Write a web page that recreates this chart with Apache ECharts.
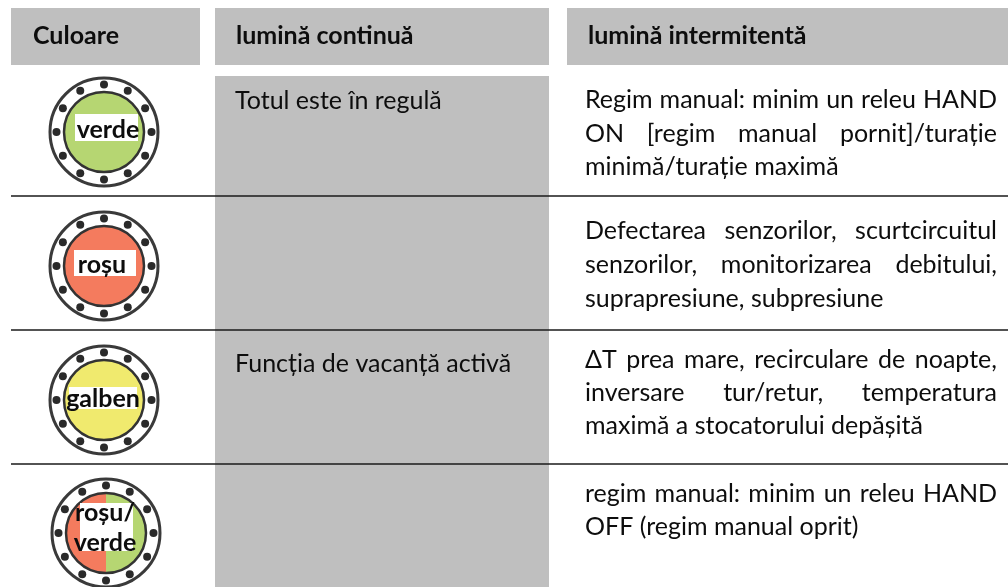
<!DOCTYPE html>
<html>
<head>
<meta charset="utf-8">
<style>
  html, body { margin: 0; padding: 0; background: #fff; }
  #chart { width: 1008px; height: 587px; }
</style>
<script src="https://cdn.jsdelivr.net/npm/echarts@6/dist/echarts.min.js"></script>
</head>
<body>
<div id="chart"></div>
<script>
// table content
const columnTitles = ['Culoare', 'lumină continuă', 'lumină intermitentă'];
const lampNames = [['verde'], ['roșu'], ['galben'], ['roșu/', 'verde']];
const lampColors = [['#b6d672'], ['#f47b5e'], ['#f0ea6e'], ['#f47b5e', '#b6d672']];
const steadyTexts = ['Totul este în regulă', '', 'Funcția de vacanță activă', ''];
const blinkLines = [
    ['Regim manual: minim un releu HAND', 'ON [regim manual pornit]/turație', 'minimă/turație maximă'],
    ['Defectarea senzorilor, scurtcircuitul', 'senzorilor, monitorizarea debitului,', 'suprapresiune, subpresiune'],
    ['ΔT prea mare, recirculare de noapte,', 'inversare tur/retur, temperatura', 'maximă a stocatorului depășită'],
    ['regim manual: minim un releu HAND', 'OFF (regim manual oprit)']
];

// layout, in page pixels (the hidden axes map 1:1)
const headerCols = [[11, 200], [215, 549], [567, 1008]];
const headerTop = 8, headerBottom = 65;
const headerTextX = [33, 236, 588];
const headerTextY = 36;
const grayCol = { left: 215, right: 549, top: 76, bottom: 587 };
const ruleY = [196, 330, 464];
const ruleLeft = 11, ruleRight = 1008;
const lampCx = [104, 104, 104, 106];
const lampCy = [132, 266, 400, 533];
const labelBoxes = [[75, 114, 138, 141], [74, 250, 136, 276], [69, 387, 137, 409], [80, 503, 133, 551]];
const labelLineY = [[130], [265], [399], [513, 543]];
const labelCx = [108, 102, 103, 105];
const steadyX = 235;
const steadyY = [101, 0, 364, 0];
const blinkLeft = 585, blinkRight = 997;
const blinkY = [[100, 134, 167], [231, 265, 299], [360, 393, 426], [494, 527]];

const FONT = 'Lato';
const BODY_SIZE = 25;
const measureCtx = document.createElement('canvas').getContext('2d');

function textEl(x, y, text, size, weight, align) {
    return {
        type: 'text',
        style: {
            x: x, y: y, text: text,
            fontFamily: FONT, fontSize: size, fontWeight: weight,
            fill: '#0d0d0d', align: align || 'left', verticalAlign: 'middle'
        }
    };
}

function renderCells(params, api) {
    const children = [];
    headerCols.forEach((col, i) => {
        const a = api.coord([col[0], headerTop]);
        const b = api.coord([col[1], headerBottom]);
        children.push({ type: 'rect', shape: { x: a[0], y: a[1], width: b[0] - a[0], height: b[1] - a[1] }, style: { fill: '#bfbfbf' } });
    });
    const a = api.coord([grayCol.left, grayCol.top]);
    const b = api.coord([grayCol.right, grayCol.bottom]);
    children.push({ type: 'rect', shape: { x: a[0], y: a[1], width: b[0] - a[0], height: b[1] - a[1] }, style: { fill: '#bfbfbf' } });
    return { type: 'group', children: children };
}

function renderRule(params, api) {
    const a = api.coord([ruleLeft, api.value(0)]);
    const b = api.coord([ruleRight, api.value(0)]);
    return { type: 'line', shape: { x1: a[0], y1: a[1], x2: b[0], y2: b[1] }, style: { stroke: '#1a1a1a', lineWidth: 1.6 } };
}

function renderLamp(params, api) {
    const i = params.dataIndex;
    const c = api.coord([lampCx[i], lampCy[i]]);
    const children = [
        { type: 'circle', shape: { cx: c[0], cy: c[1], r: 54 }, style: { fill: 'none', stroke: '#3a3a3a', lineWidth: 3 } }
    ];
    for (let k = 0; k < 12; k++) {
        const ang = k * Math.PI / 6;
        children.push({
            type: 'circle',
            shape: { cx: c[0] + 47.5 * Math.cos(ang), cy: c[1] + 47.5 * Math.sin(ang), r: 4 },
            style: { fill: '#2a2a2a' }
        });
    }
    const fills = lampColors[i];
    if (fills.length === 1) {
        children.push({ type: 'circle', shape: { cx: c[0], cy: c[1], r: 40 }, style: { fill: fills[0] } });
    } else {
        children.push({ type: 'sector', shape: { cx: c[0], cy: c[1], r: 40, r0: 0, startAngle: Math.PI / 2, endAngle: Math.PI * 1.5 }, style: { fill: fills[0] } });
        children.push({ type: 'sector', shape: { cx: c[0], cy: c[1], r: 40, r0: 0, startAngle: -Math.PI / 2, endAngle: Math.PI / 2 }, style: { fill: fills[1] } });
    }
    children.push({ type: 'circle', shape: { cx: c[0], cy: c[1], r: 40 }, style: { fill: 'none', stroke: '#333', lineWidth: 2.5 } });

    const box = labelBoxes[i];
    const p = api.coord([box[0], box[1]]);
    const q = api.coord([box[2], box[3]]);
    children.push({ type: 'rect', shape: { x: p[0], y: p[1], width: q[0] - p[0], height: q[1] - p[1] }, style: { fill: '#fff' } });
    lampNames[i].forEach((word, n) => {
        const t = api.coord([labelCx[i], labelLineY[i][n]]);
        children.push(textEl(t[0], t[1], word, BODY_SIZE, 'bold', 'center'));
    });
    return { type: 'group', children: children };
}

function renderHeader(params, api) {
    const i = params.dataIndex;
    const t = api.coord([headerTextX[i], headerTextY]);
    return textEl(t[0], t[1], columnTitles[i], BODY_SIZE, 'bold');
}

function renderSteady(params, api) {
    const i = params.dataIndex;
    if (!steadyTexts[i]) return null;
    const t = api.coord([steadyX, steadyY[i]]);
    return textEl(t[0], t[1], steadyTexts[i], BODY_SIZE, 'normal');
}

// justified paragraph: every line but the last is stretched to the column width
function renderBlink(params, api) {
    const i = params.dataIndex;
    const left = api.coord([blinkLeft, 0])[0];
    const right = api.coord([blinkRight, 0])[0];
    measureCtx.font = BODY_SIZE + 'px ' + FONT;
    const children = [];
    blinkLines[i].forEach((line, n) => {
        const y = api.coord([0, blinkY[i][n]])[1];
        if (n === blinkLines[i].length - 1) {
            children.push(textEl(left, y, line, BODY_SIZE, 'normal'));
            return;
        }
        const words = line.split(' ');
        const widths = words.map(w => measureCtx.measureText(w).width);
        const total = widths.reduce((s, w) => s + w, 0);
        const gap = (right - left - total) / (words.length - 1);
        let x = left;
        words.forEach((w, k) => {
            children.push(textEl(x, y, w, BODY_SIZE, 'normal'));
            x += widths[k] + gap;
        });
    });
    return { type: 'group', children: children };
}

function customSeries(renderItem, data, z) {
    return { type: 'custom', renderItem: renderItem, data: data, z: z, silent: true, animation: false, clip: false, encode: { x: [], y: 0 } };
}

const chart = echarts.init(document.getElementById('chart'));
chart.setOption({
    backgroundColor: '#fff',
    animation: false,
    tooltip: { show: false },
    grid: { left: 0, right: 0, top: 0, bottom: 0 },
    xAxis: { type: 'value', min: 0, max: 1008, show: false },
    yAxis: { type: 'value', min: 0, max: 587, inverse: true, show: false },
    series: [
        customSeries(renderCells, [0], 1),
        customSeries(renderRule, ruleY, 2),
        customSeries(renderLamp, lampNames.map((n, i) => i), 3),
        customSeries(renderHeader, columnTitles.map((n, i) => i), 4),
        customSeries(renderSteady, steadyTexts.map((n, i) => i), 4),
        customSeries(renderBlink, blinkLines.map((n, i) => i), 4)
    ]
});

window.addEventListener('resize', () => {
    chart.resize();
});
</script>
</body>
</html>
